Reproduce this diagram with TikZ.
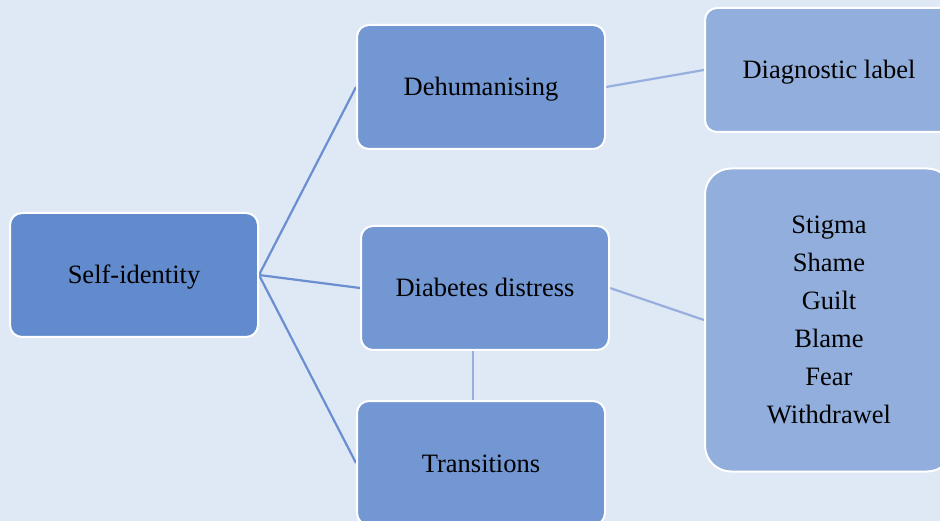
\documentclass[tikz,border=0pt]{standalone}
\usepackage{fontspec}
\setmainfont{Liberation Serif}
\usetikzlibrary{backgrounds}
\definecolor{bgcol}{HTML}{DFE9F5}
\definecolor{rootcol}{HTML}{628BCD}
\definecolor{midcol}{HTML}{7297D3}
\definecolor{leafcol}{HTML}{91AEDC}
\definecolor{linkdark}{HTML}{6B8ED0}
\definecolor{linklight}{HTML}{98AEDE}
\begin{document}
\begin{tikzpicture}[x=1pt,y=-1pt,
  box/.style={draw=white,line width=2pt,rounded corners=12pt,
    minimum width=248pt,minimum height=124pt,align=center,
    font=\fontsize{26.5}{38}\selectfont,inner sep=0pt},
  oneline/.style={text height=19pt,text depth=1pt},
  rootbox/.style={box,oneline,fill=rootcol},
  midbox/.style={box,oneline,fill=midcol},
  leafbox/.style={box,fill=leafcol},
  darklink/.style={draw=linkdark,line width=2.2pt},
  lightlink/.style={draw=linklight,line width=2.2pt}]
  \useasboundingbox (0,0) rectangle (940,521);

  \node[rootbox] (self) at (134,275) {Self-identity};
  \node[midbox] (dehum) at (481,87) {Dehumanising};
  \node[midbox] (dist) at (485,288) {Diabetes distress};
  \node[midbox] (trans) at (481,463) {Transitions};
  \node[leafbox,oneline] (diag) at (829,70) {Diagnostic label};
  \node[leafbox,minimum height=303pt,rounded corners=26pt] (emo) at (829,320)
    {Stigma\\Shame\\Guilt\\Blame\\Fear\\Withdrawel};

  \begin{pgfonlayer}{background}
    \fill[bgcol] (0,0) rectangle (940,521);
    \draw[darklink] (self.east) -- (dehum.west);
    \draw[darklink] (self.east) -- (dist.west);
    \draw[darklink] (self.east) -- (trans.west);
    \draw[lightlink] (dehum.east) -- (diag.west);
    \draw[lightlink] (dist.east) -- (emo.west);
    \draw[lightlink] ([xshift=-12pt]dist.south) -- ([xshift=-8pt]trans.north);
  \end{pgfonlayer}
\end{tikzpicture}
\end{document}
